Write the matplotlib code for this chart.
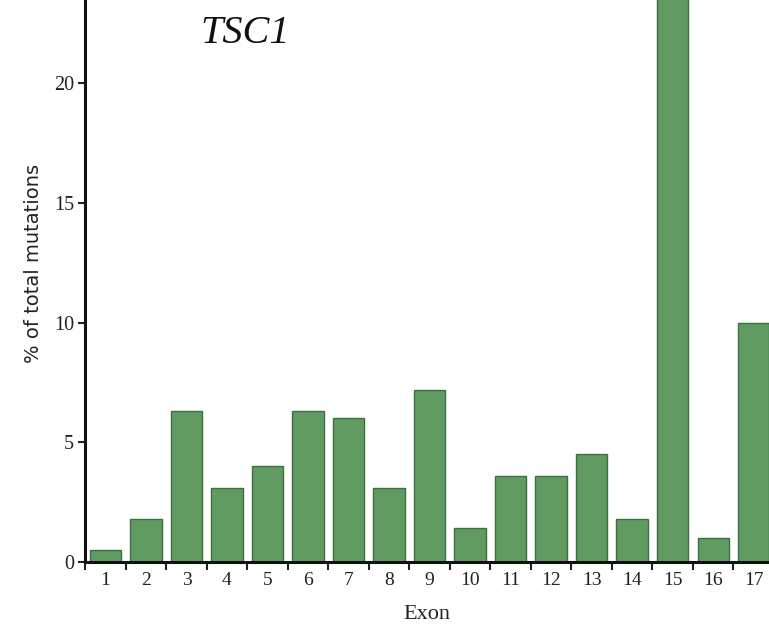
import numpy as np
import matplotlib.pyplot as plt
from matplotlib.ticker import FixedLocator, NullFormatter

exons = np.arange(1, 18)
pct = [0.5, 1.8, 6.3, 3.1, 4.0, 6.3, 6.0, 3.1, 7.2, 1.4, 3.6, 3.6, 4.5, 1.8, 26.0, 1.0, 10.0]
yticks = [0, 5, 10, 15, 20]

plt.rcParams['font.family'] = ['Liberation Serif', 'DejaVu Serif']

fig = plt.figure(figsize=(7.69, 6.27), dpi=100)
ax = fig.add_axes([0.1105, 0.1037, 0.8895, 0.8963])

ax.bar(exons, pct, width=0.77, color='#619b62', edgecolor='#3f6e40', linewidth=1.0)

ax.set_xlim(0.494, 17.38)
ax.set_ylim(0, 23.47)

ax.set_xticks(exons)
ax.set_xticklabels([str(e) for e in exons], fontsize=14, color='#222222')
ax.tick_params(axis='x', which='major', length=0, pad=7)
ax.xaxis.set_minor_locator(FixedLocator(np.arange(0.5, 17.0, 1.0)))
ax.xaxis.set_minor_formatter(NullFormatter())
ax.tick_params(axis='x', which='minor', length=6, width=1.5, direction='out', color='#222222')

ax.set_yticks(yticks)
ax.set_yticklabels([str(v) for v in yticks], fontsize=14.5, color='#222222')
ax.tick_params(axis='y', length=5, width=1.5, direction='out', color='#222222', pad=3)

for s in ['top', 'right']:
    ax.spines[s].set_visible(False)
for s in ['left', 'bottom']:
    ax.spines[s].set_linewidth(2.2)
    ax.spines[s].set_color('#111111')

ax.set_xlabel('Exon', fontsize=16, color='#222222', labelpad=12)
ax.set_ylabel('% of total mutations', fontsize=14, color='#222222',
              family=['DejaVu Sans'])
ax.yaxis.set_label_coords(-0.062, 0.532)

ax.text(0.168, 0.94, 'TSC1', transform=ax.transAxes, fontsize=29, style='italic',
        ha='left', va='center', color='#111111')

fig.savefig('out.png', dpi=100, facecolor='white')
